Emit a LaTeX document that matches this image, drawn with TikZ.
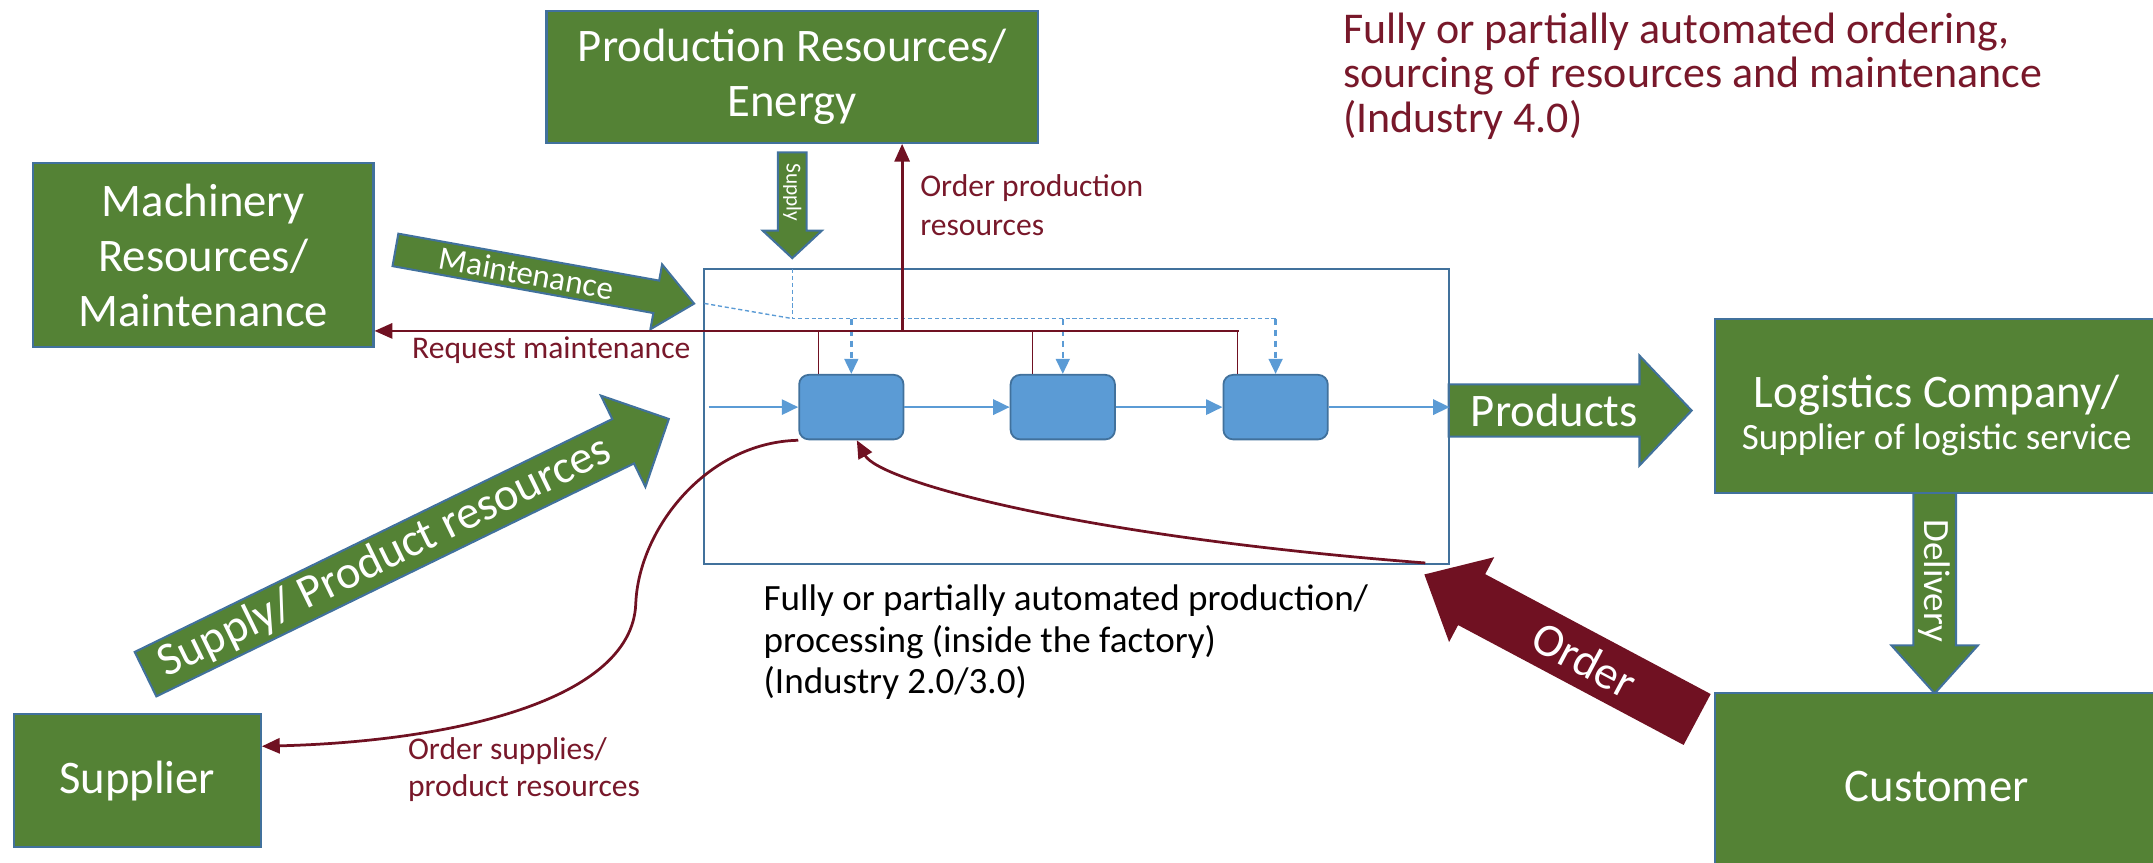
\documentclass[tikz,border=0pt]{standalone}
\usepackage{fontspec}
\setmainfont{Carlito}
\usetikzlibrary{arrows.meta,calc}
\definecolor{gfill}{RGB}{84,130,53}
\definecolor{bord}{RGB}{65,113,156}
\definecolor{pfill}{RGB}{91,155,213}
\definecolor{mar}{RGB}{112,17,34}
\definecolor{martext}{RGB}{120,24,42}
\newcommand{\barrow}[5]{%
  \path[#1] (0,#3) -- ({#2-#5},#3) -- ({#2-#5},#4) -- (#2,0) -- ({#2-#5},-#4) -- ({#2-#5},-#3) -- (0,-#3) -- cycle;}
\begin{document}
\begin{tikzpicture}[x=1pt,y=-1pt,
  gbox/.style={draw=bord, fill=gfill, line width=1.5pt, text=white, align=center, inner sep=0pt, font=\fontsize{34}{40}\selectfont},
  garrow/.style={draw=bord, fill=gfill, line width=1.5pt},
  oarrow/.style={fill=mar},
  atext/.style={text=white, inner sep=0pt, transform shape},
  proc/.style={draw=bord, fill=pfill, line width=1.3pt, rounded corners=7pt, minimum width=76pt, minimum height=47pt, inner sep=0pt},
  flow/.style={draw=pfill, line width=2pt, -{Triangle[length=12pt,width=11pt]}},
  dashthin/.style={draw=pfill, line width=1pt, dash pattern=on 3pt off 2pt},
  dashdrop/.style={draw=pfill, line width=1.8pt, dash pattern=on 5pt off 3pt, -{Triangle[length=11pt,width=10pt]}},
  redarrow/.style={draw=mar, line width=2pt, -{Triangle[length=13pt,width=11pt]}},
  thinred/.style={draw=mar, line width=0.9pt},
  mtext/.style={text=martext, align=left, inner sep=0pt, anchor=north west},
]
\useasboundingbox (0,0) rectangle (1568,628);

% block arrows
\begin{scope}[shift={(288,182)},rotate=-10.2]
  \barrow{garrow}{221}{12}{24}{28}
  \node[atext, font=\fontsize{24}{28}\selectfont] (tmaint) at (97,0) {Maintenance};
\end{scope}
\begin{scope}[shift={(577,111)},rotate=-90]
  \barrow{garrow}{77}{10.5}{21.5}{20}
  \node[atext, font=\fontsize{15.5}{18}\selectfont] (tsupply) at (29,0) {Supply};
\end{scope}
\begin{scope}[shift={(106,491)},rotate=26]
  \barrow{garrow}{424}{18}{37}{37}
  \node[atext, font=\fontsize{34}{40}\selectfont] (tspr) at (194,0) {Supply/ Product resources};
\end{scope}
\begin{scope}[shift={(1055,299)}]
  \barrow{garrow}{177}{19}{40}{38}
  \node[atext, font=\fontsize{34}{40}\selectfont] (tprod) at (77,0) {Products};
\end{scope}
\begin{scope}[shift={(1409,359)},rotate=-90]
  \barrow{garrow}{146}{15.5}{31.5}{35}
  \node[atext, font=\fontsize{27}{32}\selectfont] (tdeliv) at (64,0) {Delivery};
\end{scope}
\begin{scope}[shift={(1236,524)},rotate=152]
  \barrow{oarrow}{225}{21}{35}{39}
  \node[atext, rotate=180, font=\fontsize{34}{40}\selectfont] (torder) at (93,0) {Order};
\end{scope}

% boxes
\node[gbox, minimum width=358pt, minimum height=96pt] (prod) at (577,56) {Production Resources/\\Energy};
\node[gbox, minimum width=248pt, minimum height=134pt] (mach) at (148,186) {Machinery\\Resources/\\Maintenance};
\node[gbox, minimum width=180pt, minimum height=97pt] (supl) at (100,568.5) {Supplier};
\node[gbox, minimum width=323pt, minimum height=127pt, font=\fontsize{27}{31}\selectfont] (logi) at (1410.5,295.5) {{\fontsize{34}{31}\selectfont\rule{0pt}{38pt}Logistics Company/}\\Supplier of logistic service};
\node[gbox, minimum width=323pt, minimum height=135pt] (cust) at (1410.5,572.5) {Customer};

% factory
\node[draw=bord, line width=1.5pt, minimum width=542pt, minimum height=215pt, inner sep=0pt] (fact) at (784,303.5) {};
\node[proc] (p1) at (620,296.5) {};
\node[proc] (p2) at (774,296.5) {};
\node[proc] (p3) at (929,296.5) {};

% flow
\coordinate (fin) at (516,296.5);
\draw[flow] (fin) -- (p1.west);
\draw[flow] (p1.east) -- (p2.west);
\draw[flow] (p2.east) -- (p3.west);
\draw[flow] (p3.east) -- (p3.east -| fact.east);

% dashed supply lines
\coordinate (dsA) at (513,221);
\coordinate (dsB) at (577,232);
\coordinate (dsT) at (577,196);
\coordinate (dsE) at (929,232);
\draw[dashthin] (dsA) -- (dsB);
\draw[dashthin] (dsT) -- (dsB) -- (dsE);
\draw[dashdrop] (dsB -| p1.north) -- (p1.north);
\draw[dashdrop] (dsB -| p2.north) -- (p2.north);
\draw[dashdrop] (dsE) -- (p3.north);

% red request lines
\coordinate (rR) at (902,241);
\draw[redarrow] (rR) -- (rR -| mach.east);
\draw[thinred] ([xshift=-24pt]p1.north) -- ++(0,-32);
\draw[thinred] ([xshift=-22pt]p2.north) -- ++(0,-32);
\draw[thinred] ([xshift=-28pt]p3.north) -- ++(0,-32);
\coordinate (rP) at (657,241);
\draw[redarrow] (rP) -- (rP |- prod.south);

% order curves
\coordinate (oc) at (1038,410);
\draw[redarrow] (oc) .. controls (780,390) and (640,350) .. ([xshift=4pt]p1.south);
\draw[redarrow] (p1.south west) .. controls (515,322) and (465,385) .. (463,440) .. controls (460,510) and (330,540) .. ([yshift=25pt]supl.east);

% texts
\node[mtext, font=\fontsize{32}{32.5}\selectfont] (t40) at (978,9) {Fully or partially automated ordering,\\sourcing of resources and maintenance\\(Industry 4.0)};
\node[mtext, font=\fontsize{23}{28}\selectfont] (tordp) at (670,127) {Order production\\resources};
\node[mtext, font=\fontsize{23}{28}\selectfont] (treq) at (300,245) {Request maintenance};
\node[mtext, font=\fontsize{23}{27}\selectfont] (tsup) at (297,537) {Order supplies/\\product resources};
\node[mtext, text=black, font=\fontsize{27}{30}\selectfont] (t23) at (556,426) {Fully or partially automated production/\\processing (inside the factory)\\(Industry 2.0/3.0)};
\end{tikzpicture}
\end{document}
